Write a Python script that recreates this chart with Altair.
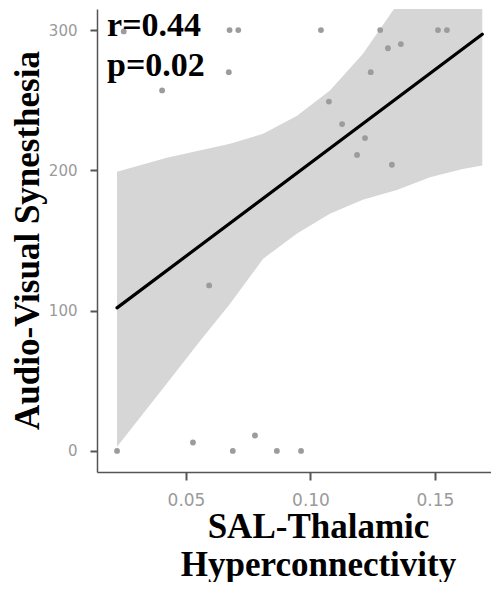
import altair as alt
import pandas as pd

# scatter points (SAL-Thalamic hyperconnectivity vs audio-visual synesthesia)
pt_x = [0.0250, 0.0675, 0.0710, 0.0672, 0.0404, 0.1042, 0.1280, 0.1512, 0.1548,
        0.1311, 0.1363, 0.1242, 0.1074, 0.1127, 0.1219, 0.1187, 0.1327, 0.0593,
        0.0223, 0.0528, 0.0688, 0.0777, 0.0865, 0.0962]
pt_y = [299, 300, 300, 270, 257, 300, 300, 300, 300,
        287, 290, 270, 249, 233, 223, 211, 204, 118,
        0, 6, 0, 11, 0, 0]

# fitted line
fit_x = [0.0223, 0.1690]
fit_y = [102, 297]

# confidence band
band_x = [0.0223, 0.0423, 0.0550, 0.0677, 0.0810, 0.0946, 0.1078, 0.1210, 0.1347, 0.1480, 0.1612, 0.1690]
band_lo = [3, 48, 77, 105, 137, 155, 169, 179, 186, 195, 201, 203.5]
band_hi = [199, 209, 214, 219, 226, 239, 257, 283, 318, 344, 373, 391]

# annotation
ann_text = ["r=0.44", "p=0.02"]
ann_x = [0.0183, 0.0183]
ann_y = [296, 267.5]

x_ticks = [0.05, 0.10, 0.15]
y_ticks = [0, 100, 200, 300]

pts = pd.DataFrame({"x": pt_x, "y": pt_y})
fit = pd.DataFrame({"x": fit_x, "y": fit_y})
band = pd.DataFrame({"x": band_x, "lo": band_lo, "hi": band_hi})
ann = pd.DataFrame({"t": ann_text, "x": ann_x, "y": ann_y})

xs = alt.Scale(domain=[0.01426, 0.1725], nice=False, zero=False)
ys = alt.Scale(domain=[-15, 315], nice=False, zero=False)

serif = "Liberation Serif"

xaxis = alt.Axis(
    values=x_ticks, format=".2f", grid=False,
    title=["SAL-Thalamic", "Hyperconnectivity"],
    titleFont=serif, titleFontSize=35, titleFontWeight="bold", titleColor="black",
    titleLineHeight=38, titleBaseline="alphabetic", titleAlign="center",
    titleX=221, titleY=65,
    labelFont="DejaVu Sans", labelFontSize=17, labelColor="#9a9a9a", labelPadding=12,
    tickSize=8, tickWidth=2, tickColor="#555555",
    domainColor="#555555", domainWidth=1.5,
)
yaxis = alt.Axis(
    values=y_ticks, grid=False,
    title="Audio-Visual Synesthesia",
    titleFont=serif, titleFontSize=35, titleFontWeight="bold", titleColor="black",
    titleAngle=270, titleBaseline="alphabetic", titleAlign="center",
    titleX=-59, titleY=231,
    labelFont="DejaVu Sans", labelFontSize=15, labelColor="#9a9a9a", labelPadding=13,
    tickSize=7, tickWidth=2, tickColor="#555555",
    domainColor="#555555", domainWidth=1.5,
)

band_layer = alt.Chart(band).mark_area(color="#d6d6d6", opacity=1, clip=True).encode(
    x=alt.X("x:Q", scale=xs, axis=xaxis),
    y=alt.Y("lo:Q", scale=ys, axis=yaxis),
    y2="hi:Q",
)

pt_layer = alt.Chart(pts).mark_circle(size=34, color="#9c9c9c", opacity=1, clip=True).encode(
    x=alt.X("x:Q", scale=xs),
    y=alt.Y("y:Q", scale=ys),
)

fit_layer = alt.Chart(fit).mark_line(color="black", strokeWidth=3.2, strokeCap="round", clip=True).encode(
    x=alt.X("x:Q", scale=xs),
    y=alt.Y("y:Q", scale=ys),
)

ann_layer = alt.Chart(ann).mark_text(
    font=serif, fontSize=34, fontWeight="bold", color="black",
    align="left", baseline="alphabetic",
).encode(
    x=alt.X("x:Q", scale=xs),
    y=alt.Y("y:Q", scale=ys),
    text="t:N",
)

chart = alt.layer(band_layer, pt_layer, fit_layer, ann_layer).properties(
    width=394, height=463,
    autosize="none",
    padding={"left": 89, "top": 1, "right": 0, "bottom": 110},
).configure_view(stroke=None)

chart.save("out.html", embed_options={"renderer": "svg", "actions": False})
